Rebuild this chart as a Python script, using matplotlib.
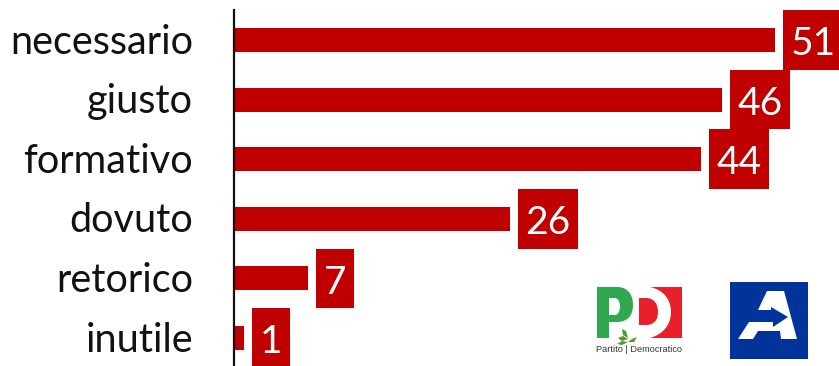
import matplotlib
matplotlib.use("Agg")
import matplotlib.pyplot as plt
from matplotlib.patches import Rectangle, Polygon, PathPatch
from matplotlib.path import Path
from matplotlib.transforms import ScaledTranslation

categories = ["necessario", "giusto", "formativo", "dovuto", "retorico", "inutile"]
values = [51, 46, 44, 26, 7, 1]

RED = "#C00000"
W, H = 839, 366
PX_PER_UNIT = 10.62
ROW_PX = 59.6
AXIS_X = 233.5
TOP_PX = 10.0

plt.rcParams["font.family"] = ["Lato", "DejaVu Sans"]
fig = plt.figure(figsize=(W / 100, H / 100), dpi=100, facecolor="white")

ax = fig.add_axes([AXIS_X / W, 0, (W - AXIS_X) / W, (H - TOP_PX) / H])
ax.set_xlim(0, (W - AXIS_X) / PX_PER_UNIT)
ax.set_ylim((H - 40) / ROW_PX, (TOP_PX - 40) / ROW_PX)

y_pos = list(range(len(categories)))
ax.barh(y_pos, values, height=24 / ROW_PX, color=RED, linewidth=0)

# Value tags sit just past the end of each bar
GAP = 8 / PX_PER_UNIT
for y, v in zip(y_pos, values):
    box_w = (60 if v >= 10 else 38) / PX_PER_UNIT
    ax.add_patch(Rectangle((v + GAP, y - 0.5), box_w, 1.0, color=RED, linewidth=0))
    ax.text(v + GAP + box_w / 2, y + 0.07, str(v), color="white", fontsize=28,
            ha="center", va="center")

ax.set_yticks(y_pos, categories, fontsize=28.5, color="#111111")
ax.tick_params(axis="y", length=0, pad=29)
nudge = ScaledTranslation(0, 1.5 / 100, fig.dpi_scale_trans)
for label in ax.get_yticklabels():
    label.set_transform(label.get_transform() + nudge)
ax.set_xticks([])
for side in ("top", "right", "bottom"):
    ax.spines[side].set_visible(False)
ax.spines["left"].set_linewidth(1.6)
ax.spines["left"].set_color("#111111")

# Party logos, laid out on a pixel-sized overlay
logo = fig.add_axes([0, 0, 1, 1], facecolor="none")
logo.set_xlim(0, W)
logo.set_ylim(H, 0)
logo.axis("off")

GREEN = "#2FA84F"
FLAG = "#E8202A"
LEAF = "#4C9A2A"
M, L, C, Z = Path.MOVETO, Path.LINETO, Path.CURVE4, Path.CLOSEPOLY

# red field with a white D band cut out of it, then the red D bowl
logo.add_patch(PathPatch(Path(
    [(650, 287), (682, 287), (682, 338), (650, 338),
     (664, 334), (671, 324), (671, 312), (671, 300), (664, 290), (650, 287), (650, 287)],
    [M, L, L, L, C, C, C, C, C, C, Z]), facecolor=FLAG, linewidth=0))
logo.add_patch(PathPatch(Path(
    [(639, 298), (646, 298), (654, 298), (658, 304), (658, 312), (658, 320), (654, 325),
     (646, 325), (639, 325), (639, 298)],
    [M, L, C, C, C, C, C, C, L, Z]), facecolor=FLAG, linewidth=0))

# green P with its counter
logo.add_patch(PathPatch(Path(
    [(597, 287), (617, 287), (628, 287), (633, 295), (633, 305), (633, 315), (628, 322),
     (617, 322), (609, 322), (609, 338), (597, 338), (597, 287),
     (609, 298), (609, 315), (615, 315), (618, 315), (620, 311), (620, 306.5),
     (620, 302), (618, 298), (615, 298), (609, 298)],
    [M, L, C, C, C, C, C, C, L, L, L, Z,
     M, L, L, C, C, C, C, C, C, Z]), facecolor=GREEN, linewidth=0))

# olive sprig
logo.add_patch(Polygon([(622, 329), (626, 331), (628, 338), (623, 335)], color=LEAF, linewidth=0))
logo.add_patch(Polygon([(618, 338), (623, 336), (628, 339), (622, 341)], color=LEAF, linewidth=0))
logo.add_patch(Polygon([(628, 342), (632, 339), (637, 337), (634, 342)], color=LEAF, linewidth=0))
logo.add_patch(Polygon([(617, 344), (622, 341), (628, 342), (622, 345)], color=LEAF, linewidth=0))
logo.text(639.5, 350, "Partito | Democratico", fontsize=6.6, family="Liberation Sans",
          color="#333333", ha="center", va="center")

# arrow-A mark on a blue square
logo.add_patch(Rectangle((730, 282), 78, 77, color="#00349A", linewidth=0))
logo.add_patch(Polygon([(767, 291), (784, 291), (797, 339), (781, 339), (780, 331),
                        (758, 331), (753, 339), (738, 339), (749, 322), (773, 322),
                        (773, 327), (788, 317), (771, 307), (771, 310), (758, 310)],
                       color="white", linewidth=0))

fig.savefig("out.png", dpi=100, facecolor="white")
